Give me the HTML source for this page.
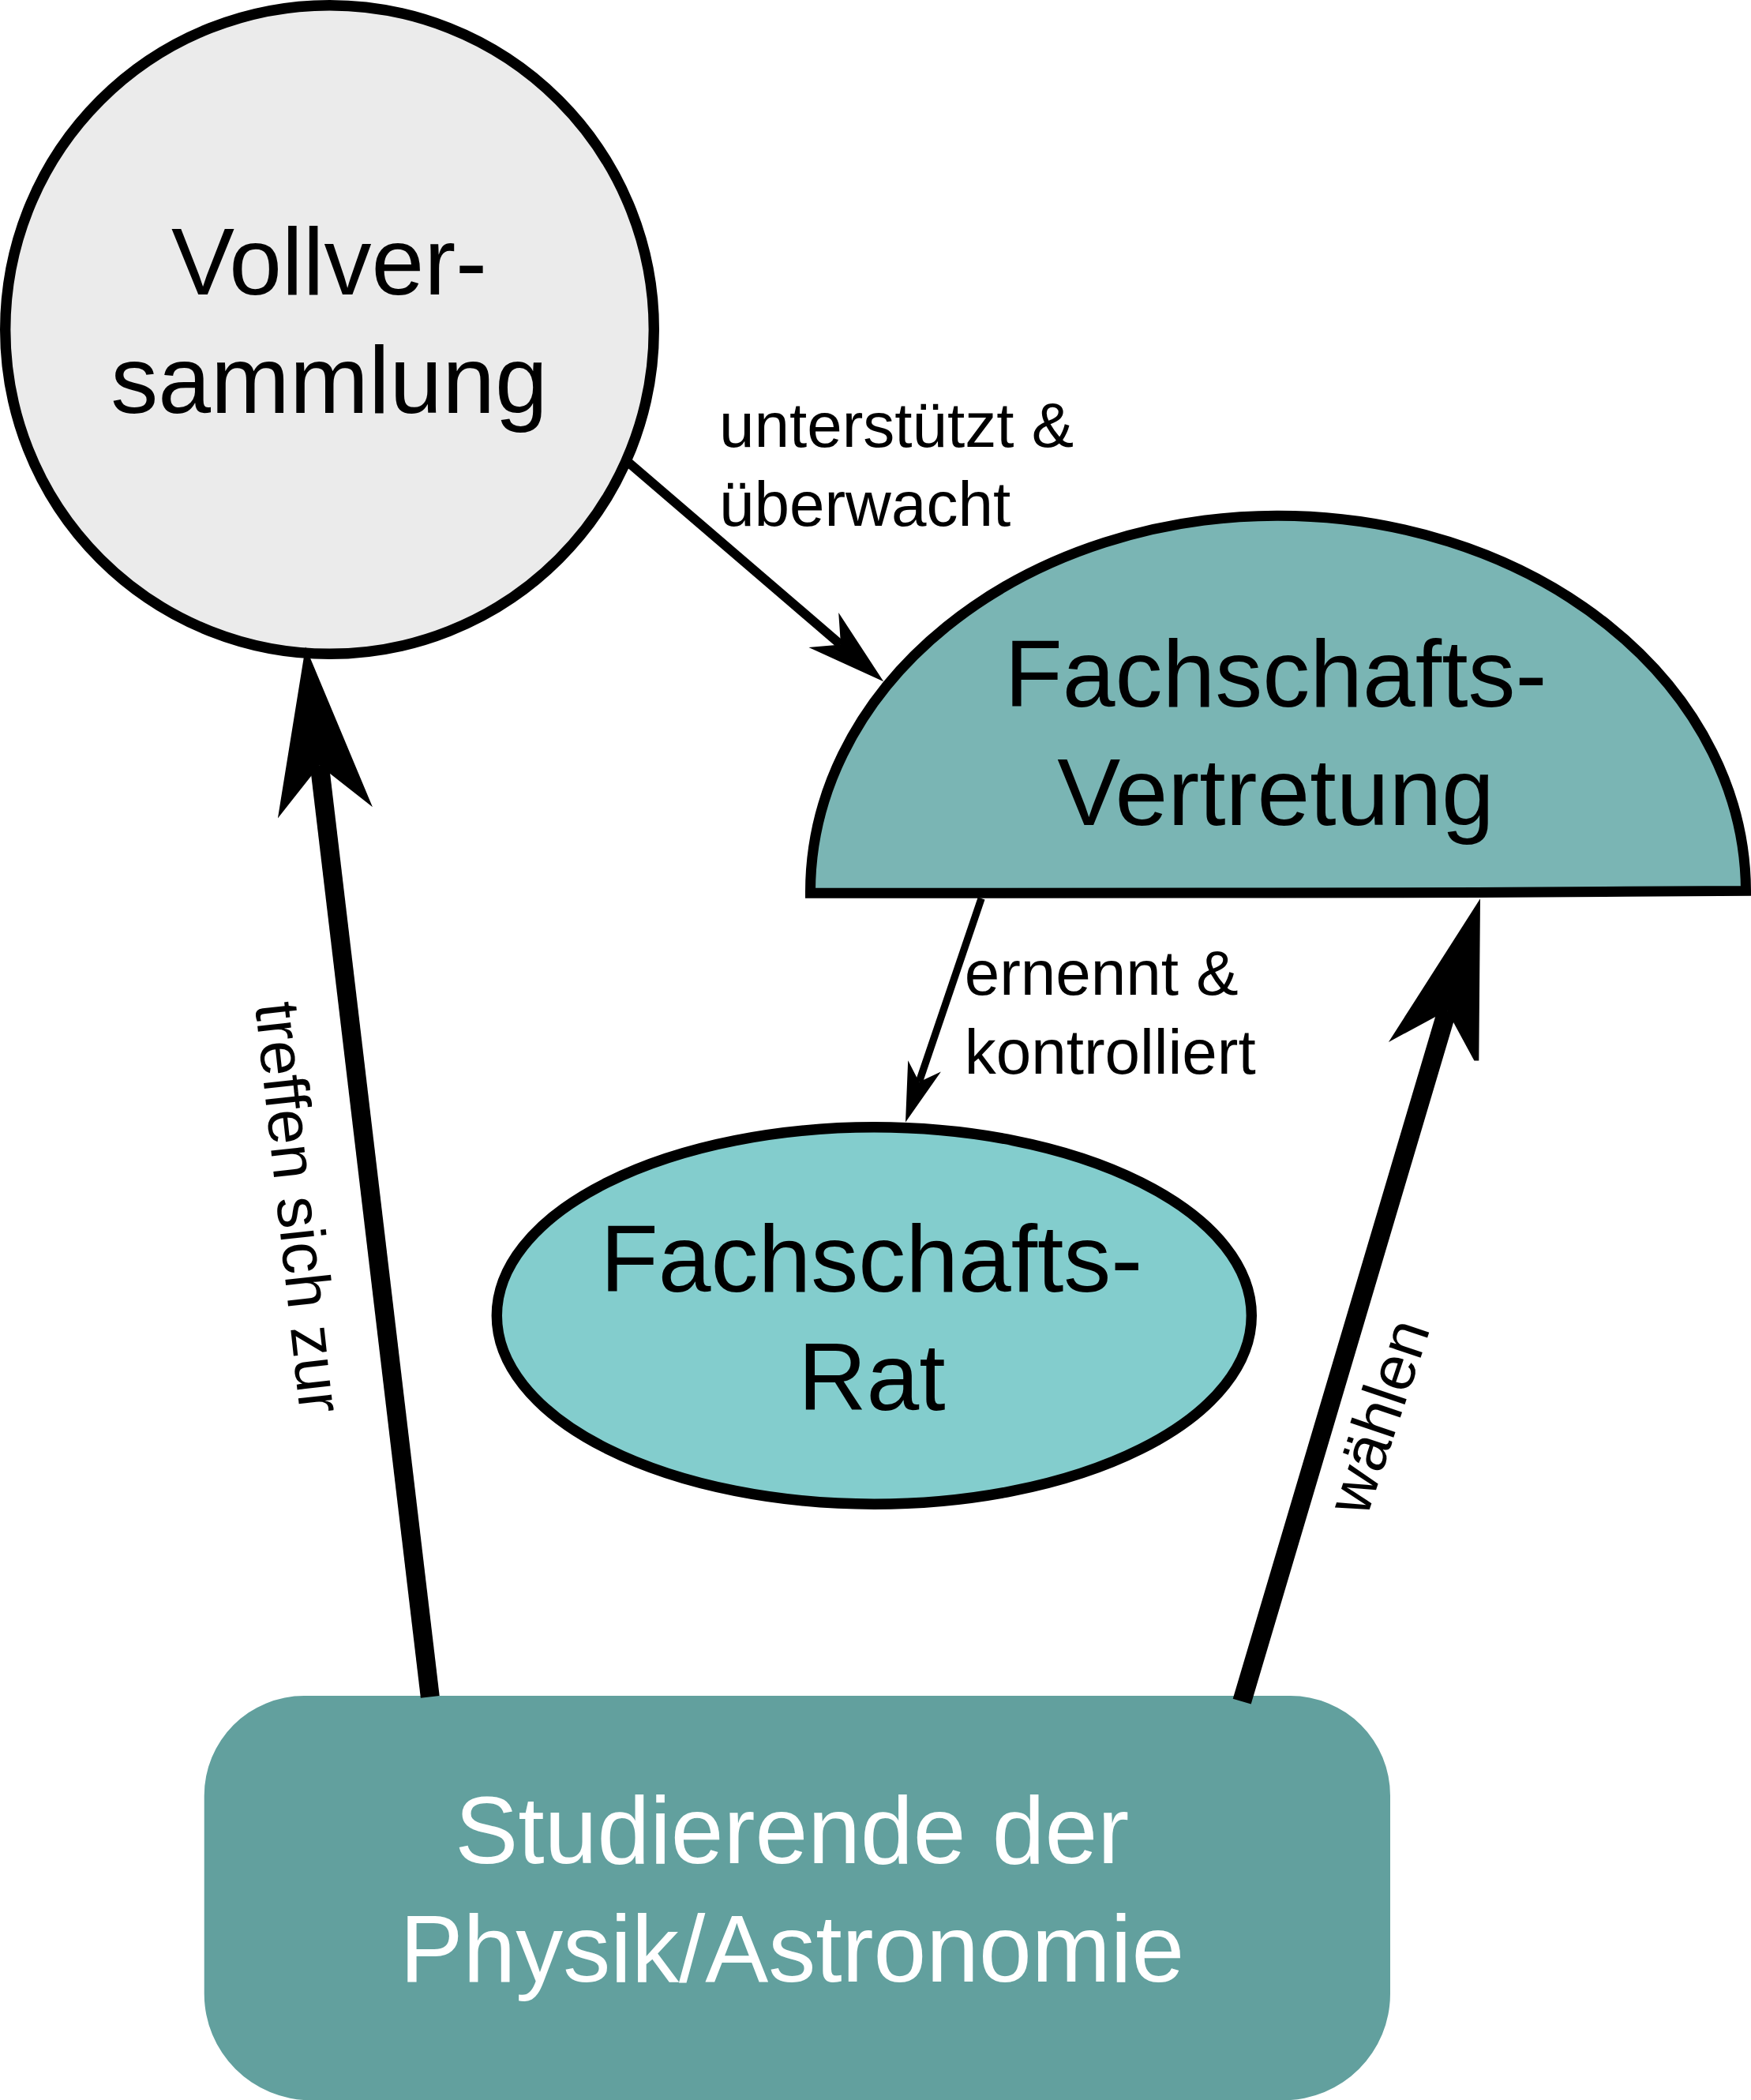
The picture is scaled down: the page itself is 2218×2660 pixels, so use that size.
<!DOCTYPE html>
<html><head><meta charset="utf-8"><style>
html,body{margin:0;padding:0;background:#fff;overflow:hidden;width:2218px;height:2660px;}
svg{display:block;}
</style></head><body>
<svg width="2218" height="2660" viewBox="0 0 2218 2660">
<rect width="2218" height="2660" fill="#fff"/>
<circle cx="417.5" cy="417.5" r="410.8" fill="#ebebeb" stroke="#000" stroke-width="13.4"/>
<path d="M1026.5,1131.2 A592.5,476.6 0 0 1 2211.5,1128.4 L2060,1129.3 L1870,1130.6 L1610,1131.1 Z" fill="#7ab5b4" stroke="#000" stroke-width="13" stroke-linejoin="miter"/>
<ellipse cx="1107.3" cy="1666.5" rx="478" ry="238.7" fill="#83cdcd" stroke="#000" stroke-width="13.4"/>
<path d="M385.2,2148 H1634.5 A126.5,126.5 0 0 1 1761,2274.5 V2525.3 A135,135 0 0 1 1626,2660.3 H393.7 A135,135 0 0 1 258.7,2525.3 V2274.5 A126.5,126.5 0 0 1 385.2,2148 Z" fill="#62a09e"/>
<line x1="795.5" y1="585.2" x2="1065.0" y2="816.6" stroke="#000" stroke-width="11.7"/>
<polygon points="1119.2,863.2 1024.4,820.0 1065.0,816.6 1062.2,776.0" fill="#000"/>
<line x1="1243.1" y1="1137.9" x2="1164.2" y2="1370.6" stroke="#000" stroke-width="9.3"/>
<polygon points="1147.0,1421.4 1150.2,1343.3 1164.2,1370.6 1191.9,1357.4" fill="#000"/>
<line x1="544.8" y1="2149.4" x2="404.8" y2="969.5" stroke="#000" stroke-width="24.0"/>
<polygon points="387.0,819.3 471.9,1022.2 404.8,969.5 351.9,1036.4" fill="#000"/>
<line x1="1573.2" y1="2155.2" x2="1833.0" y2="1280.0" stroke="#000" stroke-width="24.0"/>
<polygon points="1875,1138.3 1873.3,1343.4 1867.4,1343.4 1833,1280 1758.9,1320" fill="#000"/>
<g font-family="Liberation Sans, sans-serif">
<text x="417.0" y="372.7" font-size="120" text-anchor="middle" fill="#000" >Vollver-</text>
<text x="417.0" y="522.6" font-size="120" text-anchor="middle" fill="#000" >sammlung</text>
<text x="911.0" y="566.1" font-size="80" text-anchor="start" fill="#000" >unterstützt &amp;</text>
<text x="911.0" y="665.8" font-size="80" text-anchor="start" fill="#000" >überwacht</text>
<text x="1616.0" y="895.3" font-size="120" text-anchor="middle" fill="#000" >Fachschafts-</text>
<text x="1616.0" y="1045.3" font-size="120" text-anchor="middle" fill="#000" >Vertretung</text>
<text x="1221.7" y="1259.5" font-size="80" text-anchor="start" fill="#000" >ernennt &amp;</text>
<text x="1221.7" y="1359.8" font-size="80" text-anchor="start" fill="#000" >kontrolliert</text>
<text x="1103.9" y="1636.0" font-size="120" text-anchor="middle" fill="#000" >Fachschafts-</text>
<text x="1104.3" y="1785.6" font-size="120" text-anchor="middle" fill="#000" >Rat</text>
<text x="1003.3" y="2360.0" font-size="120" text-anchor="middle" fill="#fff" >Studierende der</text>
<text x="1003.3" y="2510.4" font-size="120" text-anchor="middle" fill="#fff" >Physik/Astronomie</text>
<text transform="translate(323,1272.2) rotate(83.73)" font-size="80">treffen sich zur</text>
<text transform="translate(1731,1923) rotate(-71.4)" font-size="80">wählen</text>
</g>
</svg>
</body></html>
